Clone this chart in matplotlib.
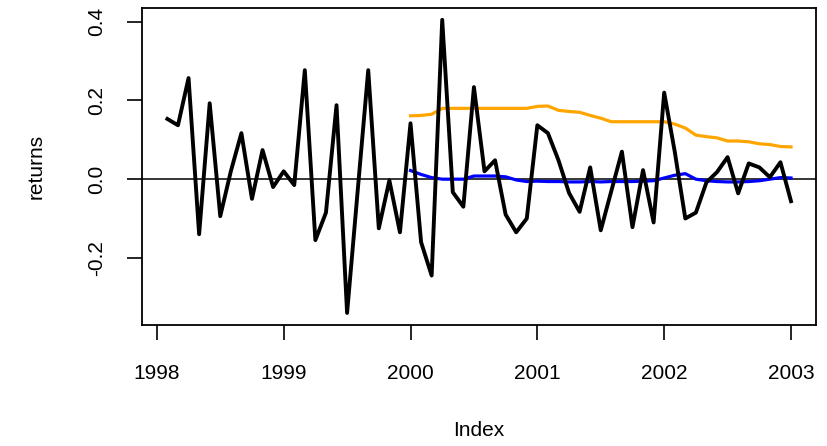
import matplotlib.pyplot as plt
import numpy as np
import pandas as pd

# monthly returns, Feb 1998 .. Jan 2003
returns = [
    0.153, 0.137, 0.257, -0.140, 0.193, -0.094, 0.020, 0.117, -0.050, 0.074, -0.020,
    0.020, -0.015, 0.277, -0.155, -0.085, 0.188, -0.340, -0.030, 0.277, -0.125, -0.003, -0.135,
    0.142, -0.160, -0.245, 0.405, -0.033, -0.070, 0.234, 0.020, 0.048, -0.090, -0.135, -0.100,
    0.137, 0.117, 0.048, -0.035, -0.083, 0.030, -0.130, -0.030, 0.070, -0.122, 0.023, -0.110,
    0.220, 0.070, -0.100, -0.085, -0.008, 0.018, 0.056, -0.036, 0.040, 0.030, 0.005, 0.043,
    -0.056,
]

# rolling estimates, Jan 2000 .. Jan 2003
upper = [
    0.161, 0.162, 0.165, 0.180, 0.180, 0.180, 0.180, 0.180, 0.180, 0.180, 0.180, 0.180,
    0.185, 0.186, 0.175, 0.172, 0.170, 0.162, 0.155, 0.146, 0.146, 0.146, 0.146, 0.146,
    0.146, 0.140, 0.130, 0.112, 0.108, 0.105, 0.097, 0.097, 0.095, 0.090, 0.088, 0.083,
    0.082,
]
mean = [
    0.022, 0.012, 0.004, 0.000, 0.000, 0.000, 0.008, 0.008, 0.008, 0.006, -0.002, -0.006,
    -0.005, -0.006, -0.006, -0.007, -0.007, -0.006, -0.007, -0.006, -0.006, -0.006, -0.005, -0.004,
    0.003, 0.010, 0.014, 0.000, -0.004, -0.006, -0.007, -0.007, -0.006, -0.004, 0.000, 0.004,
    0.003,
]

def yearmon(start, n):
    d = pd.date_range(start, periods=n, freq='MS')
    return d.year + (d.month - 1) / 12

x_ret = yearmon('1998-02', len(returns))
x_est = yearmon('2000-01', len(upper))

plt.rcParams['font.family'] = ['Liberation Sans', 'DejaVu Sans']

fig = plt.figure(figsize=(8.28, 4.46), dpi=100)
ax = fig.add_axes([0.1715, 0.271, 0.814, 0.711])

ax.axhline(0, color='black', lw=1.1, zorder=1)
ax.plot(x_est, upper, color='orange', lw=2.3, zorder=2)
ax.plot(x_est, mean, color='blue', lw=2.3, zorder=2)
ax.plot(x_ret, returns, color='black', lw=2.8, zorder=3)

ax.set_xlim(1997.883, 2003.197)
ax.set_ylim(-0.371, 0.435)

ax.set_xticks([1998, 1999, 2000, 2001, 2002, 2003])
ax.set_yticks([-0.2, 0.0, 0.2, 0.4])
ax.set_yticklabels(['-0.2', '0.0', '0.2', '0.4'], rotation=90, va='center')
ax.tick_params(direction='out', length=11, width=1.2, labelsize=15)
ax.tick_params(axis='x', pad=17)
ax.tick_params(axis='y', pad=15)
for s in ax.spines.values():
    s.set_linewidth(1.3)

ax.set_xlabel('Index', fontsize=15, labelpad=27)
ax.set_ylabel('returns', fontsize=15, labelpad=30)

fig.savefig('out.png', dpi=100)
